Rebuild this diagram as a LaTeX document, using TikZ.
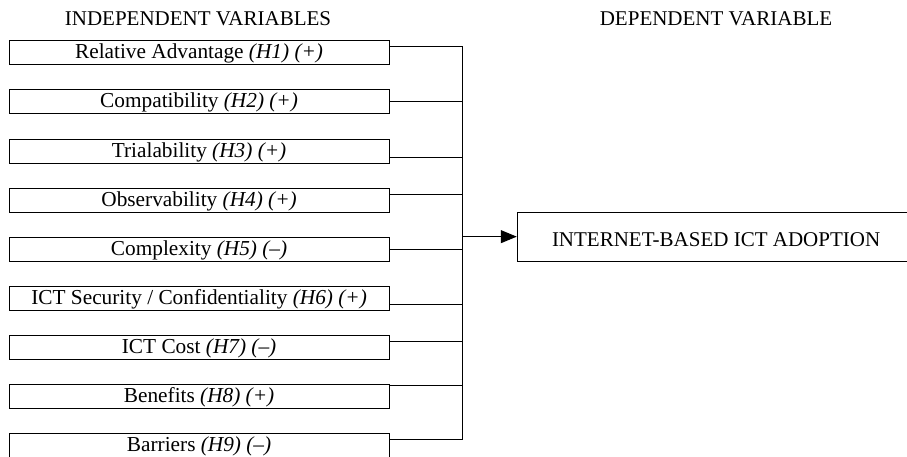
\documentclass[tikz,border=0pt]{standalone}
\usepackage{fontspec}
\setmainfont{Liberation Serif}
\usetikzlibrary{arrows.meta}
\begin{document}
\begin{tikzpicture}[x=1pt,y=-1pt,
  ivbox/.style={draw, line width=1pt, inner sep=0pt, minimum width=379.8pt,
    text height=18pt, text depth=6pt, anchor=north west,
    font=\fontsize{21.3}{24}\selectfont},
  dvbox/.style={draw, line width=1pt, inner sep=0pt, minimum width=397.7pt,
    text height=34.4pt, text depth=14.3pt, font=\fontsize{21}{24}\selectfont},
  head/.style={anchor=base, inner sep=0pt, font=\fontsize{21}{24}\selectfont},
  link/.style={line width=1pt}]
\useasboundingbox (0,0) rectangle (907,456);

% column headings
\node[head] (hiv) at (198,25) {INDEPENDENT VARIABLES};
\node[head] (hdv) at (716,25) {DEPENDENT VARIABLE};

% independent variables
\node[ivbox] (b1) at (8.7,40.3)  {Relative Advantage \textit{(H1) (+)}};
\node[ivbox] (b2) at (8.7,89.4)  {Compatibility \textit{(H2) (+)}};
\node[ivbox] (b3) at (8.7,138.5) {Trialability \textit{(H3) (+)}};
\node[ivbox] (b4) at (8.7,187.6) {Observability \textit{(H4) (+)}};
\node[ivbox] (b5) at (8.7,236.7) {Complexity \textit{(H5) (–)}};
\node[ivbox] (b6) at (8.7,285.8) {ICT Security / Confidentiality \textit{(H6) (+)}};
\node[ivbox] (b7) at (8.7,334.9) {ICT Cost \textit{(H7) (–)}};
\node[ivbox] (b8) at (8.7,384.0) {Benefits \textit{(H8) (+)}};
\node[ivbox] (b9) at (8.7,433.1) {Barriers \textit{(H9) (–)}};

% dependent variable
\node[dvbox] (dv) at (716.1,236.65) {INTERNET-BASED ICT ADOPTION};

% collecting bus
\coordinate (bus) at (462.3,236.65);
\foreach \n/\d in {1/6,2/12.3,3/18.5,4/7,5/12.6,6/19,7/6.7,8/1,9/6.8}{
  \coordinate (c\n) at ([yshift=-\d pt]b\n.north east);
  \draw[link] (c\n) -- (c\n -| bus);
}
\draw[link] (c1 -| bus) -- (c9 -| bus);
\draw[link,-{Triangle[length=16pt,width=13pt]}] (bus) -- (dv.west);
\end{tikzpicture}
\end{document}
